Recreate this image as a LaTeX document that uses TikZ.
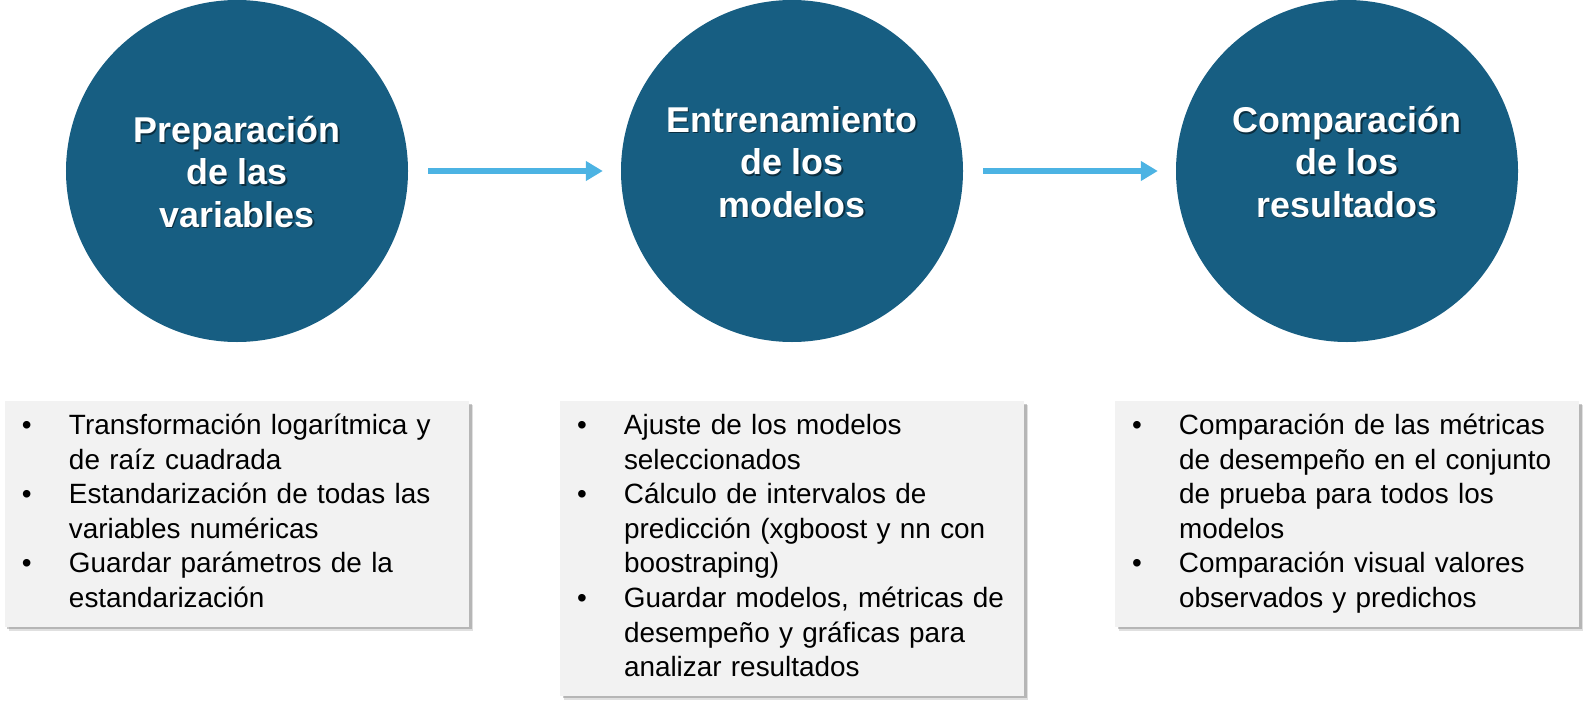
\documentclass[tikz,border=0pt]{standalone}
\usepackage{fontspec}
\setmainfont{Liberation Sans}
\usetikzlibrary{positioning,arrows.meta,shadows}

\definecolor{azul}{RGB}{23,94,130}
\definecolor{celeste}{RGB}{76,179,227}
\definecolor{fondo}{RGB}{242,242,242}

\tikzset{
  etapa/.style={circle, fill=azul, minimum size=342bp, inner sep=0pt},
  titulo/.style={text=white, align=center, font=\fontsize{36}{42.5}\selectfont\bfseries},
  caja/.style={fill=fondo, text width=430bp, align=left, inner xsep=17bp, inner ysep=9bp,
    font=\fontsize{28}{34.7}\selectfont,
    drop shadow={shadow xshift=4bp, shadow yshift=-4bp, opacity=0.2, fill=black!60},
    drop shadow={shadow xshift=2.5bp, shadow yshift=-2.5bp, opacity=0.35, fill=black!60}},
  flecha/.style={draw=celeste, line width=6bp, -{Triangle[length=17bp,width=19bp]}}
}

% titulo blanco con sombra: nombre, circulo, desplazamiento, texto
\newcommand{\titulo}[4]{%
  \node[titulo, text=black, opacity=0.5] at ([xshift=1.5bp, yshift=#3bp-1.5bp]#2) {#4};
  \node[titulo] (#1) at ([yshift=#3bp]#2) {#4};
}

\begin{document}
\begin{tikzpicture}[x=1bp, y=-1bp]
  \useasboundingbox (0,0) rectangle (1590,719);

  % etapas
  \node[etapa] (c1) at (237,171) {};
  \node[etapa] (c2) at (792,171) {};
  \node[etapa] (c3) at (1347,171) {};

  \titulo{t1}{c1}{-1}{Preparación\\de las\\variables}
  \titulo{t2}{c2}{9}{Entrenamiento\\de los\\modelos}
  \titulo{t3}{c3}{9}{Comparación\\de los\\resultados}

  % flechas
  \draw[flecha] ([xshift=20bp]c1.east) -- ([xshift=-18bp]c2.west);
  \draw[flecha] ([xshift=20bp]c2.east) -- ([xshift=-18bp]c3.west);

  % detalle de cada etapa
  \node[caja, below=59bp of c1] (l1) {\begin{tabular}{@{}p{47bp}@{}l@{}}
    \textbullet & Transformación logarítmica y\\
                & de raíz cuadrada\\
    \textbullet & Estandarización de todas las\\
                & variables numéricas\\
    \textbullet & Guardar parámetros de la\\
                & estandarización
  \end{tabular}};

  \node[caja, below=59bp of c2] (l2) {\begin{tabular}{@{}p{47bp}@{}l@{}}
    \textbullet & Ajuste de los modelos\\
                & seleccionados\\
    \textbullet & Cálculo de intervalos de\\
                & predicción (xgboost y nn con\\
                & boostraping)\\
    \textbullet & Guardar modelos, métricas de\\
                & desempeño y gráficas para\\
                & analizar resultados
  \end{tabular}};

  \node[caja, below=59bp of c3] (l3) {\begin{tabular}{@{}p{47bp}@{}l@{}}
    \textbullet & Comparación de las métricas\\
                & de desempeño en el conjunto\\
                & de prueba para todos los\\
                & modelos\\
    \textbullet & Comparación visual valores\\
                & observados y predichos
  \end{tabular}};

\end{tikzpicture}
\end{document}
